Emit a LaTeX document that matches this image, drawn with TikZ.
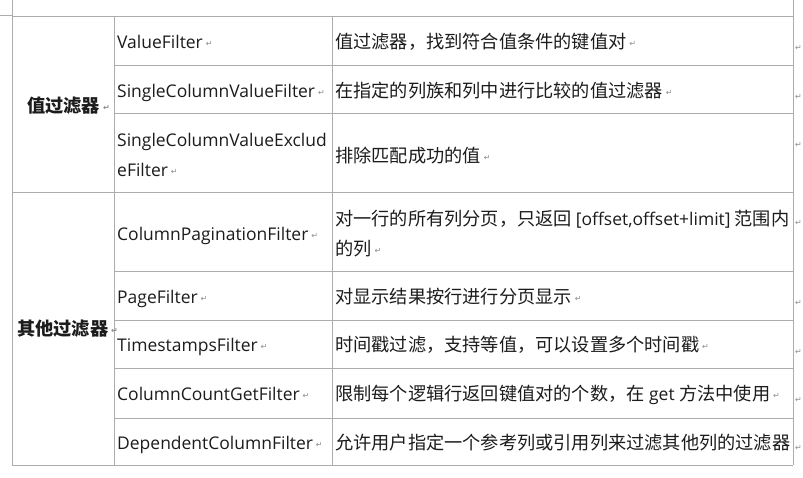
\documentclass[tikz,border=0pt]{standalone}
\usepackage{fontspec}
\setmainfont{Open Sans}[Scale=0.96]
\newfontfamily\cjk{Noto Sans CJK SC}
\newfontfamily\symf{DejaVu Sans}
\definecolor{gridc}{RGB}{172,172,172}
\definecolor{txtc}{RGB}{28,28,28}
\definecolor{markc}{RGB}{140,140,140}
\newcommand\pmk{\,\raisebox{2pt}{\symf\fontsize{8}{8}\selectfont\textcolor{markc}{↵}}}
\newcommand\rmk{{\symf\fontsize{8}{8}\selectfont\textcolor{markc}{↵}}}
\begin{document}
\begin{tikzpicture}[x=1pt,y=-1pt,
  gridline/.style={draw=gridc, line width=0.9pt},
  cell/.style={anchor=base west, inner sep=0pt, text=txtc, font=\fontsize{18.2}{30}\selectfont},
  grp/.style={cell, font=\fontsize{18.2}{30}\selectfont\cjk\bfseries},
  rowmark/.style={anchor=base west, inner sep=0pt}]
\useasboundingbox[fill=white] (0,0) rectangle (803,477);
% grid
\draw[gridline] (0,15) -- (12,15);
\draw[gridline] (12,0) -- (12,465);
\draw[gridline] (793,0) -- (793,465);
\draw[gridline] (114,16) -- (114,465);
\draw[gridline] (332,16) -- (332,465);
\draw[gridline] (12,16) -- (793,16);
\draw[gridline] (114,65) -- (793,65);
\draw[gridline] (114,113) -- (793,113);
\draw[gridline] (12,192) -- (793,192);
\draw[gridline] (114,271) -- (793,271);
\draw[gridline] (114,320) -- (793,320);
\draw[gridline] (114,368) -- (793,368);
\draw[gridline] (114,418) -- (793,418);
\draw[gridline] (12,465) -- (793,465);
% group labels
\node[grp] (g1) at (27,112) {值过滤器\pmk};
\node[grp] (g2) at (17,335) {其他过滤器\pmk};
% column 2
\node[cell] (a1) at (117,48.5) {ValueFilter\pmk};
\node[cell] (a2) at (117,97.5) {SingleColumnValueFilter\pmk};
\node[cell] (a3) at (117,146) {SingleColumnValueExclud};
\node[cell] (a3b) at (117,176) {eFilter\pmk};
\node[cell] (a4) at (117,240) {ColumnPaginationFilter\pmk};
\node[cell] (a5) at (117,303) {PageFilter\pmk};
\node[cell] (a6) at (117,351.5) {TimestampsFilter\pmk};
\node[cell] (a7) at (117,400) {ColumnCountGetFilter\pmk};
\node[cell] (a8) at (117,449) {DependentColumnFilter\pmk};
% column 3
\node[cell] (b1) at (335,48.5) {\cjk 值过滤器，找到符合值条件的键值对\pmk};
\node[cell] (b2) at (335,97.5) {\cjk 在指定的列族和列中进行比较的值过滤器\pmk};
\node[cell] (b3) at (335,162) {\cjk 排除匹配成功的值\pmk};
\node[cell] (b4) at (335,225) {\makebox[454pt][s]{{\cjk 对一行的所有列分页，只返回}\hspace{4pt plus 8pt}[offset,offset+limit]\hspace{4pt plus 8pt}{\cjk 范围内}}};
\node[cell] (b4b) at (335,255) {\cjk 的列\pmk};
\node[cell] (b5) at (335,303) {\cjk 对显示结果按行进行分页显示\pmk};
\node[cell] (b6) at (335,351.5) {\cjk 时间戳过滤，支持等值，可以设置多个时间戳\pmk};
\node[cell] (b7) at (335,400) {{\cjk 限制每个逻辑行返回键值对的个数，在} get {\cjk 方法中使用}\pmk};
\node[cell] (b8) at (335,449) {\cjk 允许用户指定一个参考列或引用列来过滤其他列的过滤器};
% row end marks
\node[rowmark] (m1) at (795,50.5) {\rmk};
\node[rowmark] (m2) at (795,99.5) {\rmk};
\node[rowmark] (m3) at (795,147.5) {\rmk};
\node[rowmark] (m4) at (795,225.5) {\rmk};
\node[rowmark] (m5) at (795,305.5) {\rmk};
\node[rowmark] (m6) at (795,354.5) {\rmk};
\node[rowmark] (m7) at (795,402.5) {\rmk};
\node[rowmark] (m8) at (795,450.5) {\rmk};
\end{tikzpicture}
\end{document}
